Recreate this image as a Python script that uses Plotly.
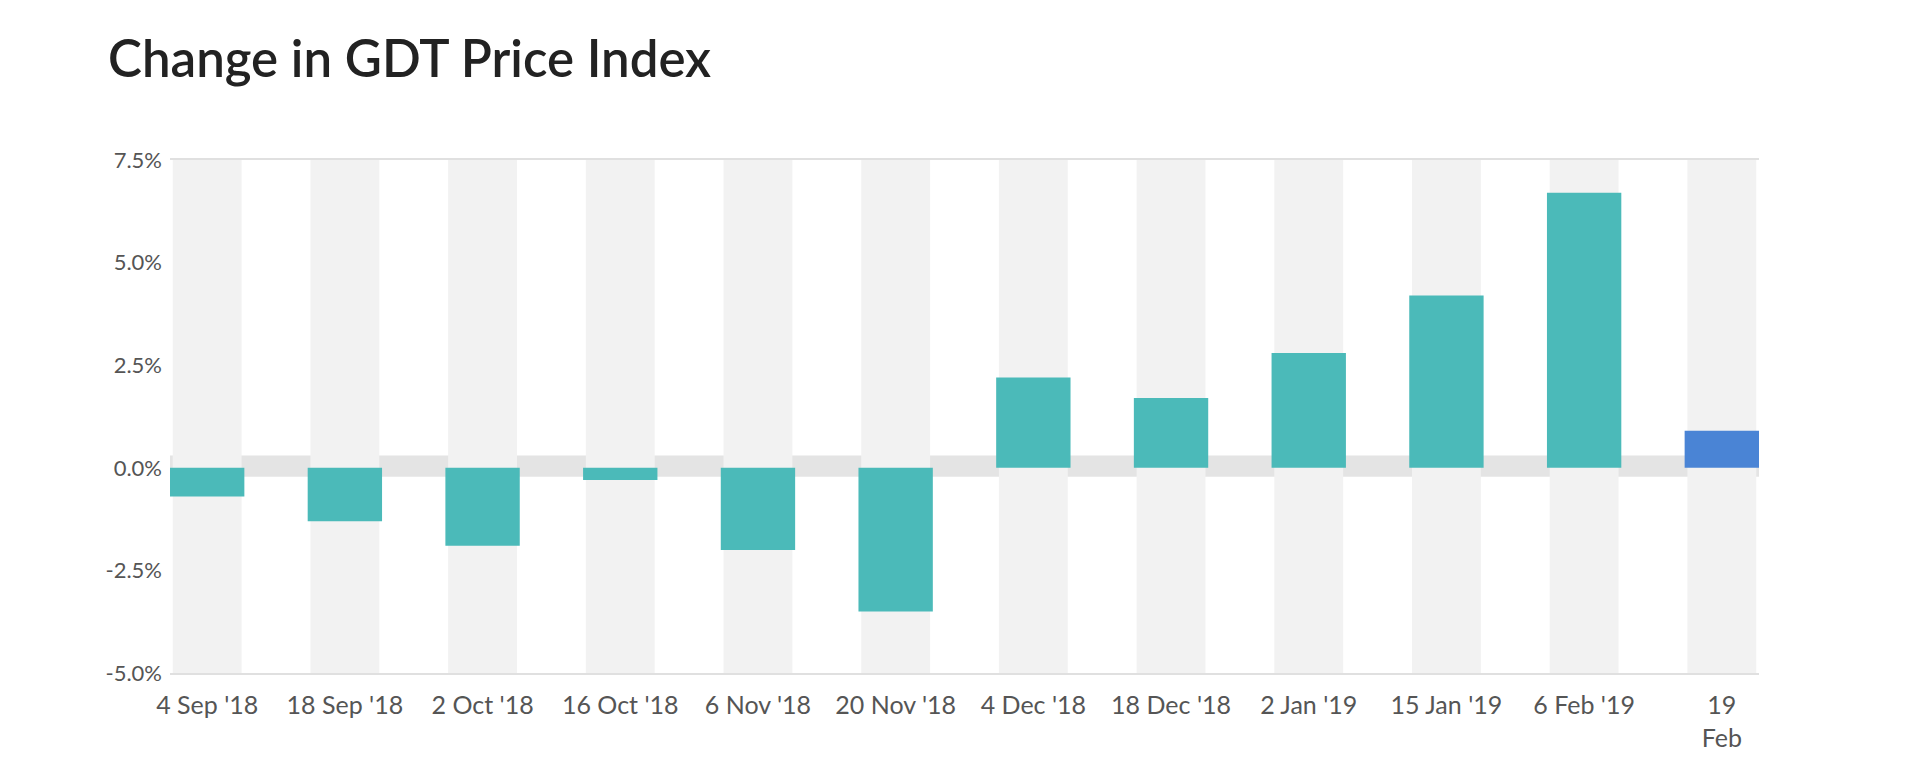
import plotly.graph_objects as go

# ---- data ----
dates = ["4 Sep '18", "18 Sep '18", "2 Oct '18", "16 Oct '18", "6 Nov '18", "20 Nov '18",
         "4 Dec '18", "18 Dec '18", "2 Jan '19", "15 Jan '19", "6 Feb '19", "19<br>Feb"]
change_pct = [-0.7, -1.3, -1.9, -0.3, -2.0, -3.5, 2.2, 1.7, 2.8, 4.2, 6.7, 0.9]
y_tick_vals = [-5.0, -2.5, 0.0, 2.5, 5.0, 7.5]
y_tick_text = ["-5.0%", "-2.5%", "0.0%", "2.5%", "5.0%", "7.5%"]

Y_MIN, Y_MAX = -5.0, 7.5
TEAL = "#4bbab9"
BLUE = "#4a84d5"
x_idx = list(range(len(dates)))
bar_colors = [TEAL] * (len(dates) - 1) + [BLUE]

fig = go.Figure()

# background columns
fig.add_trace(go.Bar(
    x=x_idx, y=[Y_MAX - Y_MIN] * len(dates), base=[Y_MIN] * len(dates),
    width=0.5, marker=dict(color="#f2f2f2", line=dict(width=0)),
    hoverinfo="skip", showlegend=False,
))

# data bars
fig.add_trace(go.Bar(
    x=x_idx, y=change_pct, width=0.54,
    marker=dict(color=bar_colors, line=dict(width=0)),
    showlegend=False,
))

# zero band
fig.add_shape(type="rect", xref="paper", x0=0, x1=1, yref="y", y0=-0.22, y1=0.3,
              fillcolor="#e4e4e4", line=dict(width=0), layer="below")

fig.update_layout(
    width=1920, height=767,
    margin=dict(l=162, r=169, t=152, b=102),
    paper_bgcolor="white", plot_bgcolor="white",
    barmode="overlay",
    font=dict(family="Lato, 'Open Sans', sans-serif", color="#555555"),
    title=dict(
        text="Change in GDT Price Index",
        font=dict(family="Lato, 'Open Sans', sans-serif", size=51, color="#222222", weight=600),
        x=100 / 1920, xref="container", xanchor="left",
        y=1 - 51 / 767, yref="container", yanchor="middle",
    ),
    xaxis=dict(
        range=[-0.27, len(dates) - 1 + 0.27],
        tickmode="array", tickvals=x_idx, ticktext=dates,
        tickfont=dict(size=25, color="#555555"),
        showgrid=False, zeroline=False,
        showline=True, linecolor="#e0e0e0", linewidth=2, mirror=True,
        ticks="", ticklabelstandoff=9,
    ),
    yaxis=dict(
        range=[Y_MIN, Y_MAX],
        tickmode="array", tickvals=y_tick_vals, ticktext=y_tick_text,
        tickfont=dict(size=22, color="#555555"),
        showgrid=False, zeroline=False, showline=False,
        ticks="", ticklabelstandoff=7,
    ),
)

fig.write_html("out.html")
